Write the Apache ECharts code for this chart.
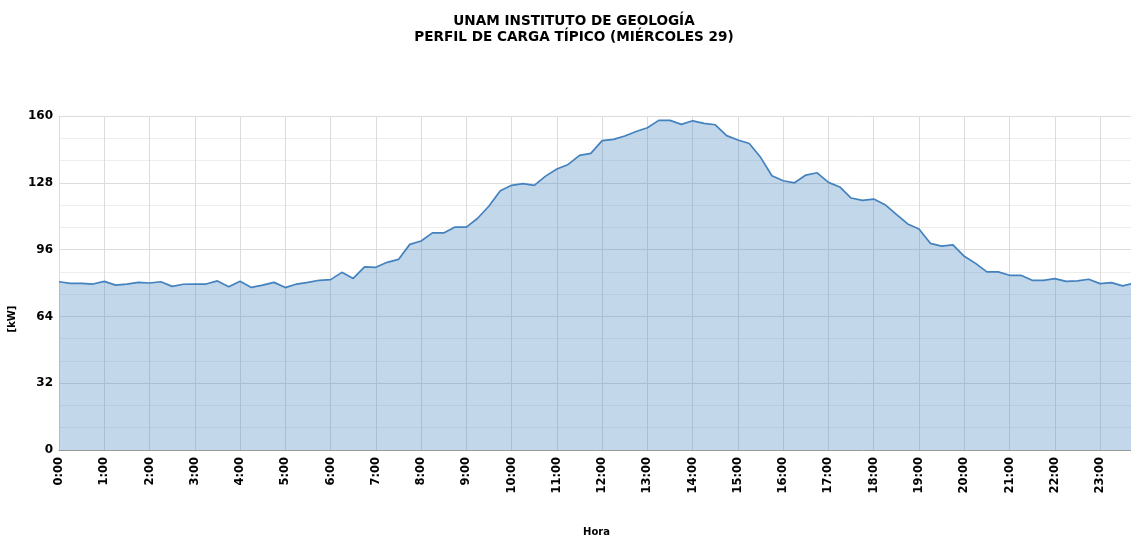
<!DOCTYPE html>
<html>
<head>
<meta charset="utf-8">
<script src="https://cdn.jsdelivr.net/npm/echarts@6/dist/echarts.min.js"></script>
<style>
  html, body { margin: 0; padding: 0; background: #fff; }
  #myChart { width: 1131px; height: 539px; }
</style>
</head>
<body>
<div id="myChart"></div>
<script>
// 15-minute readings, 0:00 .. 23:45
const horas = []
for (let h = 0; h < 24; h++) {
  for (let m = 0; m < 60; m += 15) {
    horas.push(h + ':' + (m === 0 ? '00' : m))
  }
}

const cargaKW = [
  80.6, 79.8, 79.8, 79.5, 80.8, 79.0, 79.5, 80.3, 80.0, 80.6,
  78.4, 79.4, 79.5, 79.5, 81.0, 78.2, 80.8, 77.9, 79.0, 80.3,
  77.8, 79.5, 80.3, 81.3, 81.6, 85.1, 82.2, 87.7, 87.5, 89.9,
  91.3, 98.5, 100.1, 104.0, 104.0, 106.8, 106.8, 111.0, 116.9, 124.2,
  126.8, 127.6, 126.8, 131.2, 134.6, 136.8, 141.1, 142.1, 148.2, 148.8,
  150.4, 152.6, 154.4, 157.9, 157.9, 156.0, 157.7, 156.5, 155.8, 150.6,
  148.5, 146.8, 140.2, 131.4, 129.0, 128.0, 131.7, 132.8, 128.2, 126.0,
  120.7, 119.6, 120.2, 117.5, 112.9, 108.3, 105.9, 99.0, 97.7, 98.3,
  92.8, 89.4, 85.3, 85.3, 83.7, 83.7, 81.3, 81.3, 82.1, 80.8,
  81.0, 81.8, 79.7, 80.2, 78.6, 79.9
]

const titulo = 'UNAM INSTITUTO DE GEOLOGÍA\nPERFIL DE CARGA TÍPICO (MIÉRCOLES 29)'

const chart = echarts.init(document.getElementById('myChart'), null, { renderer: 'canvas' })

const fontFam = 'DejaVu Sans'

chart.setOption({
  animation: false,
  title: {
    text: titulo,
    left: 569,
    textAlign: 'center',
    top: 8,
    textStyle: {
      fontFamily: fontFam,
      fontWeight: 'bold',
      fontSize: 13.6,
      lineHeight: 16,
      color: '#000'
    }
  },
  grid: {
    left: 59,
    right: -3,
    top: 116,
    bottom: 89,
    outerBoundsMode: 'none'
  },
  xAxis: {
    type: 'category',
    data: horas,
    boundaryGap: false,
    name: 'Hora',
    nameLocation: 'middle',
    nameGap: 77,
    nameTextStyle: {
      fontFamily: fontFam,
      fontWeight: 'bold',
      fontSize: 10,
      color: '#000'
    },
    axisLine: { lineStyle: { color: '#999', width: 1 } },
    axisTick: { show: false },
    axisLabel: {
      interval: 3,
      rotate: 90,
      margin: 7,
      fontFamily: fontFam,
      fontWeight: 'bold',
      fontSize: 11.5,
      color: '#000'
    },
    splitLine: {
      show: true,
      interval: 3,
      lineStyle: { color: '#dcdcdc', width: 1 }
    }
  },
  yAxis: {
    type: 'value',
    min: 0,
    max: 160,
    interval: 32,
    name: '[kW]',
    nameLocation: 'middle',
    nameGap: 41,
    nameTextStyle: {
      fontFamily: fontFam,
      fontWeight: 'bold',
      fontSize: 10,
      color: '#000',
      padding: [0, 72, 0, 0]
    },
    axisLine: { show: true, lineStyle: { color: '#dcdcdc' } },
    axisTick: { show: false },
    axisLabel: {
      margin: 6,
      fontFamily: fontFam,
      fontWeight: 'bold',
      fontSize: 12,
      color: '#000'
    },
    splitLine: { lineStyle: { color: '#dcdcdc', width: 1 } },
    minorTick: { show: false, splitNumber: 3 },
    minorSplitLine: { show: true, lineStyle: { color: '#eeeeee', width: 1 } }
  },
  series: [
    {
      type: 'line',
      data: cargaKW,
      symbol: 'none',
      lineStyle: { color: '#4382bf', width: 1.7 },
      areaStyle: { color: '#4a86c0', opacity: 0.33 }
    }
  ]
})
</script>
</body>
</html>
